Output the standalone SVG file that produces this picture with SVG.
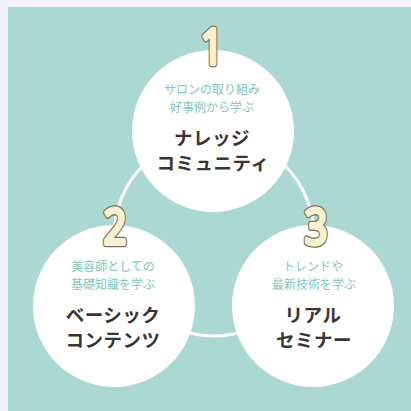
<svg xmlns="http://www.w3.org/2000/svg" width="411" height="411" viewBox="0 0 411 411">
<style>
.sub{font-family:"Noto Sans CJK JP","Noto Sans",sans-serif;font-size:12px;fill:#80c5bd;text-anchor:middle}
.main{font-family:"Noto Sans CJK JP","Noto Sans",sans-serif;font-size:18.5px;font-weight:700;fill:#3b3431;text-anchor:middle;letter-spacing:0.5px}
.num{font-family:"Noto Sans","DejaVu Sans",sans-serif;font-size:50px;font-weight:400;text-anchor:middle;stroke-linejoin:round;stroke-linecap:round}
.num-out{fill:#7d7557;stroke:#7d7557;stroke-width:6.5}
.num-in{fill:#f6f1d3;stroke:#f6f1d3;stroke-width:3.8}
.bubble{fill:#ffffff}
</style>
<rect x="0" y="0" width="411" height="411" fill="#f4f2f9"/>
<rect x="8" y="7" width="403" height="404" fill="#acd8d3"/>
<g id="connectors">
<circle cx="214" cy="236" r="100" fill="none" stroke="#ffffff" stroke-width="3"/>
</g>
<g id="node-1">
<circle class="bubble" cx="213" cy="131" r="81"/>
<g transform="translate(212,64) scale(0.8,1)">
<text class="num num-out" x="0" y="0">1</text>
<text class="num num-in" x="0" y="0">1</text>
</g>
<text class="sub" x="212" y="94">サロンの取り組み</text>
<text class="sub" x="212" y="112">好事例から学ぶ</text>
<text class="main" x="212" y="145">ナレッジ</text>
<text class="main" x="213" y="170">コミュニティ</text>
</g>
<g id="node-2">
<circle class="bubble" cx="114" cy="306" r="81"/>
<g transform="translate(115,244) scale(0.8,1)">
<text class="num num-out" x="0" y="0">2</text>
<text class="num num-in" x="0" y="0">2</text>
</g>
<text class="sub" x="113" y="271">美容師としての</text>
<text class="sub" x="113" y="289">基礎知識を学ぶ</text>
<text class="main" x="113" y="322">ベーシック</text>
<text class="main" x="113" y="347">コンテンツ</text>
</g>
<g id="node-3">
<circle class="bubble" cx="313" cy="306" r="81"/>
<g transform="translate(316,244) scale(0.8,1)">
<text class="num num-out" x="0" y="0">3</text>
<text class="num num-in" x="0" y="0">3</text>
</g>
<text class="sub" x="313" y="271">トレンドや</text>
<text class="sub" x="314" y="289">最新技術を学ぶ</text>
<text class="main" x="313" y="322">リアル</text>
<text class="main" x="314" y="347">セミナー</text>
</g>
</svg>
